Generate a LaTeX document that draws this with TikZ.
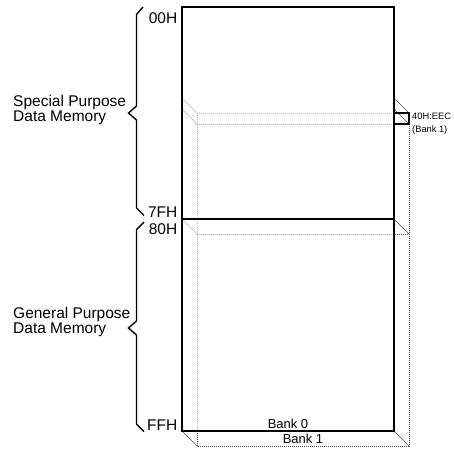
\documentclass[tikz,border=0pt]{standalone}
\usepackage{fontspec}
\setmainfont{Liberation Sans}
\begin{document}
\begin{tikzpicture}[x=1pt,y=-1pt,
  frontline/.style={line width=2pt,black},
  backline/.style={line width=0.8pt,black!70,dash pattern=on 1pt off 1pt},
  depthline/.style={line width=0.6pt,black!70},
  bracket/.style={line width=1.4pt,black,line join=miter},
  lbl/.style={inner sep=0pt,font=\fontsize{15.5}{14.7}\selectfont},
  banklbl/.style={inner sep=0pt,font=\fontsize{13}{13}\selectfont},
  reglbl/.style={inner sep=0pt,font=\fontsize{9.3}{9.3}\selectfont}]
\useasboundingbox (0,0) rectangle (454,448);

% Bank 0 (front plane)
\coordinate (fnw) at (182,7);
\coordinate (fse) at (394,431);
\coordinate (fsw) at (182,431);
\coordinate (fmidw) at (182,219);
\coordinate (fmide) at (394,219);
\coordinate (fregw) at (182,98);
\coordinate (frege) at (394,98);
\coordinate (fregwb) at (182,109);
\coordinate (fregeb) at (394,109);

% Bank 1 (back plane, shifted by depth)
\coordinate (bsw) at (197,446);
\coordinate (bse) at (409,446);
\coordinate (bmidw) at (197,234);
\coordinate (bmide) at (409,234);
\coordinate (bregw) at (197,113);
\coordinate (brege) at (409,113);
\coordinate (bregwb) at (197,124);
\coordinate (bregeb) at (409,124);

% back plane outline
\draw[backline] (bregw) -- (bsw) -- (bse) -- (bregeb);
\draw[backline] (bregw) -- (brege);
\draw[backline] (bregwb) -- (bregeb);
\draw[backline] (bmidw) -- (bmide);

% depth edges
\draw[depthline] (fregw) -- (bregw);
\draw[depthline] (frege) -- (brege);
\draw[depthline] (fregwb) -- (bregwb);
\draw[depthline] (fregeb) -- (bregeb);
\draw[depthline] (fmidw) -- (bmidw);
\draw[depthline] (fmide) -- (bmide);
\draw[depthline] (fsw) -- (bsw);
\draw[depthline] (fse) -- (bse);

% front plane
\fill[white,fill opacity=0.6] (fnw) rectangle (fse);
\draw[frontline] (fnw) rectangle (fse);
\draw[frontline] (fmidw) -- (fmide);

% EEC register in bank 1
\draw[line width=1.5pt] (frege |- brege) rectangle (bregeb);
\node[reglbl,anchor=base west] (eec) at (412,119.5) {40H:EEC};
\node[reglbl,anchor=base west] (eecbank) at (412,132) {(Bank 1)};

% address labels
\node[lbl,anchor=base east] (a00) at (177.5,23) {00H};
\node[lbl,anchor=base east] (a7f) at (177.5,217) {7FH};
\node[lbl,anchor=base east] (a80) at (177.5,234) {80H};
\node[lbl,anchor=base east] (aff) at (177.5,430) {FFH};

% bank labels
\node[banklbl,anchor=base] (bank0) at (288,428) {Bank 0};
\node[banklbl,anchor=base] (bank1) at (303,443) {Bank 1};

% braces and region names
\coordinate (sptip) at (128.5,113);
\coordinate (gptip) at (128.5,328);
\draw[bracket] (143,7) -- (136.5,14.5) -- (136.5,106) -- (sptip) -- (136.5,120) -- (136.5,208) -- (144,215.5);
\draw[bracket] (144,222) -- (136.5,229.5) -- (136.5,321) -- (gptip) -- (136.5,335) -- (136.5,424) -- (144,431.5);
\node[lbl,align=left,anchor=north west] (spdm) at (13,95) {Special Purpose\\Data Memory};
\node[lbl,align=left,anchor=north west] (gpdm) at (13,307) {General Purpose\\Data Memory};
\end{tikzpicture}
\end{document}
